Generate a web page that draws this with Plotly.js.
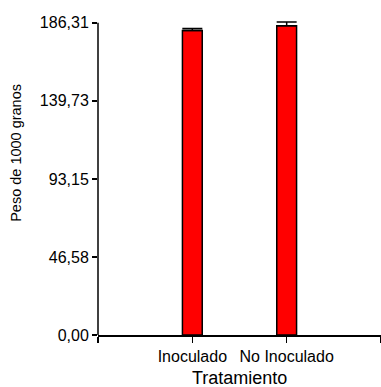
<!DOCTYPE html>
<html>
<head>
<meta charset="utf-8">
<script src="https://cdn.plot.ly/plotly-3.0.1.min.js"></script>
<style>
html,body{margin:0;padding:0;background:#fff;}
#chart{width:381px;height:387px;}
</style>
</head>
<body>
<div id="chart"></div>
<script>
const categories = ["Inoculado", "No Inoculado"];
const pesoMedio = [181.8, 184.6];
const errorSup = [1.2, 2.2];
const yTickVals = [0, 46.58, 93.15, 139.73, 186.31];
const yTickText = ["0,00", "46,58", "93,15", "139,73", "186,31"];
const xTitle = "Tratamiento";
const yTitle = "Peso de 1000 granos";

const xPos = categories.map((c, i) => i + 1);
const yTop = yTickVals[yTickVals.length - 1];

const trace = {
  type: "bar",
  x: xPos,
  y: pesoMedio,
  width: 0.21,
  marker: { color: "#FF0000", line: { color: "#000000", width: 1.5 } },
  error_y: {
    type: "data",
    symmetric: false,
    array: errorSup,
    arrayminus: errorSup.map(() => 0),
    color: "#000000",
    thickness: 1.5,
    width: 10
  },
  hoverinfo: "none"
};

const font = "Liberation Sans, Arial, sans-serif";

const layout = {
  width: 381,
  height: 387,
  margin: { l: 98, r: 0, t: 20, b: 52, pad: 0 },
  paper_bgcolor: "#ffffff",
  plot_bgcolor: "#ffffff",
  showlegend: false,
  font: { family: font, color: "#000000", size: 16 },
  xaxis: {
    range: [0, 3],
    tickmode: "array",
    tickvals: [0].concat(xPos, [3]),
    ticktext: [""].concat(categories, [""]),
    ticks: "outside",
    ticklen: 6,
    tickwidth: 1.5,
    tickcolor: "#000",
    showline: true,
    linecolor: "#000",
    linewidth: 1.5,
    showgrid: false,
    zeroline: false,
    tickfont: { family: font, size: 16, color: "#000" }
  },
  yaxis: {
    range: [0, 188],
    tickmode: "array",
    tickvals: yTickVals,
    ticktext: yTickText,
    ticks: "outside",
    ticklen: 5,
    tickwidth: 1.5,
    tickcolor: "#000",
    showline: false,
    showgrid: false,
    zeroline: false,
    tickfont: { family: font, size: 16, color: "#000" }
  },
  shapes: [{
    type: "line",
    xref: "paper", yref: "y",
    x0: 0, x1: 0, y0: 0, y1: yTop,
    line: { color: "#000", width: 1.5 }
  }],
  annotations: [{
    text: yTitle,
    xref: "paper", yref: "paper",
    x: -0.29, y: 0.578,
    xanchor: "center", yanchor: "middle",
    textangle: -90,
    showarrow: false,
    font: { family: font, size: 14.5, color: "#000" }
  }, {
    text: xTitle,
    xref: "paper", yref: "paper",
    x: 0.5, y: -0.135,
    xanchor: "center", yanchor: "middle",
    showarrow: false,
    font: { family: font, size: 18, color: "#000" }
  }]
};

Plotly.newPlot("chart", [trace], layout, { displayModeBar: false, staticPlot: true });
</script>
</body>
</html>
